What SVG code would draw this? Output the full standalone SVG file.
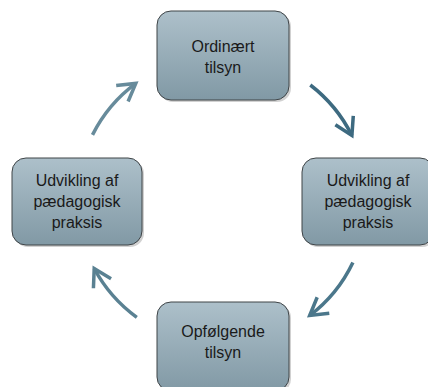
<svg xmlns="http://www.w3.org/2000/svg" width="428" height="387" viewBox="0 0 428 387">
<defs>
<linearGradient id="fill" x1="0" y1="0" x2="0" y2="1">
<stop offset="0" stop-color="#adc0ca"/>
<stop offset="1" stop-color="#8199a5"/>
</linearGradient>
<marker id="chev1" markerUnits="userSpaceOnUse" markerWidth="40" markerHeight="40" viewBox="-20 -20 40 40" refX="0" refY="0" orient="auto">
<path d="M-17,-10 L0,0 L-17,10" fill="none" stroke="#3d6a80" stroke-width="3.5" stroke-linejoin="miter" stroke-linecap="butt"/>
</marker>
<marker id="chev2" markerUnits="userSpaceOnUse" markerWidth="40" markerHeight="40" viewBox="-20 -20 40 40" refX="0" refY="0" orient="auto">
<path d="M-17,-10 L0,0 L-17,10" fill="none" stroke="#4b778b" stroke-width="3.5" stroke-linejoin="miter" stroke-linecap="butt"/>
</marker>
<marker id="chev3" markerUnits="userSpaceOnUse" markerWidth="40" markerHeight="40" viewBox="-20 -20 40 40" refX="0" refY="0" orient="auto">
<path d="M-17,-10 L0,0 L-17,10" fill="none" stroke="#5a8192" stroke-width="3.5" stroke-linejoin="miter" stroke-linecap="butt"/>
</marker>
<marker id="chev4" markerUnits="userSpaceOnUse" markerWidth="40" markerHeight="40" viewBox="-20 -20 40 40" refX="0" refY="0" orient="auto">
<path d="M-17,-10 L0,0 L-17,10" fill="none" stroke="#678b9b" stroke-width="3.5" stroke-linejoin="miter" stroke-linecap="butt"/>
</marker>
</defs>
<style>
.box{fill:url(#fill);stroke:#3f4447;stroke-width:1}
.shadow{fill:#000;opacity:0.18}
.lbl{font-family:"Liberation Sans",Arial,sans-serif;font-size:16px;fill:#1a1a1a;text-anchor:middle}
.arc{fill:none;stroke-width:3.5}
</style>
<g id="connectors">
<path class="arc" stroke="#3d6a80" marker-end="url(#chev1)" d="M310.3,85 A145,145 0 0 1 351.9,135.5"/>
<path class="arc" stroke="#4b778b" marker-end="url(#chev2)" d="M352.9,262.4 A145,145 0 0 1 309.7,315.5"/>
<path class="arc" stroke="#5a8192" marker-end="url(#chev3)" d="M136.8,317.3 A145,145 0 0 1 94.2,268.5"/>
<path class="arc" stroke="#678b9b" marker-end="url(#chev4)" d="M92.5,134.9 A145,145 0 0 1 135.8,83.4"/>
</g>
<g id="node-top">
<rect class="shadow" x="159" y="13" width="132" height="89" rx="14"/>
<rect class="box" x="157" y="11" width="132" height="89" rx="14"/>
<text class="lbl" x="223" y="52">Ordinært</text>
<text class="lbl" x="223" y="73">tilsyn</text>
</g>
<g id="node-right">
<rect class="shadow" x="304" y="160" width="132" height="87" rx="14"/>
<rect class="box" x="302" y="158" width="132" height="87" rx="14"/>
<text class="lbl" x="368" y="186">Udvikling af</text>
<text class="lbl" x="368" y="207">pædagogisk</text>
<text class="lbl" x="368" y="228">praksis</text>
</g>
<g id="node-bottom">
<rect class="shadow" x="159" y="304" width="132" height="89" rx="14"/>
<rect class="box" x="157" y="302" width="132" height="89" rx="14"/>
<text class="lbl" x="223" y="337">Opfølgende</text>
<text class="lbl" x="223" y="358">tilsyn</text>
</g>
<g id="node-left">
<rect class="shadow" x="14" y="160" width="130" height="87" rx="14"/>
<rect class="box" x="12" y="158" width="130" height="87" rx="14"/>
<text class="lbl" x="77" y="186">Udvikling af</text>
<text class="lbl" x="77" y="207">pædagogisk</text>
<text class="lbl" x="77" y="228">praksis</text>
</g>
</svg>
